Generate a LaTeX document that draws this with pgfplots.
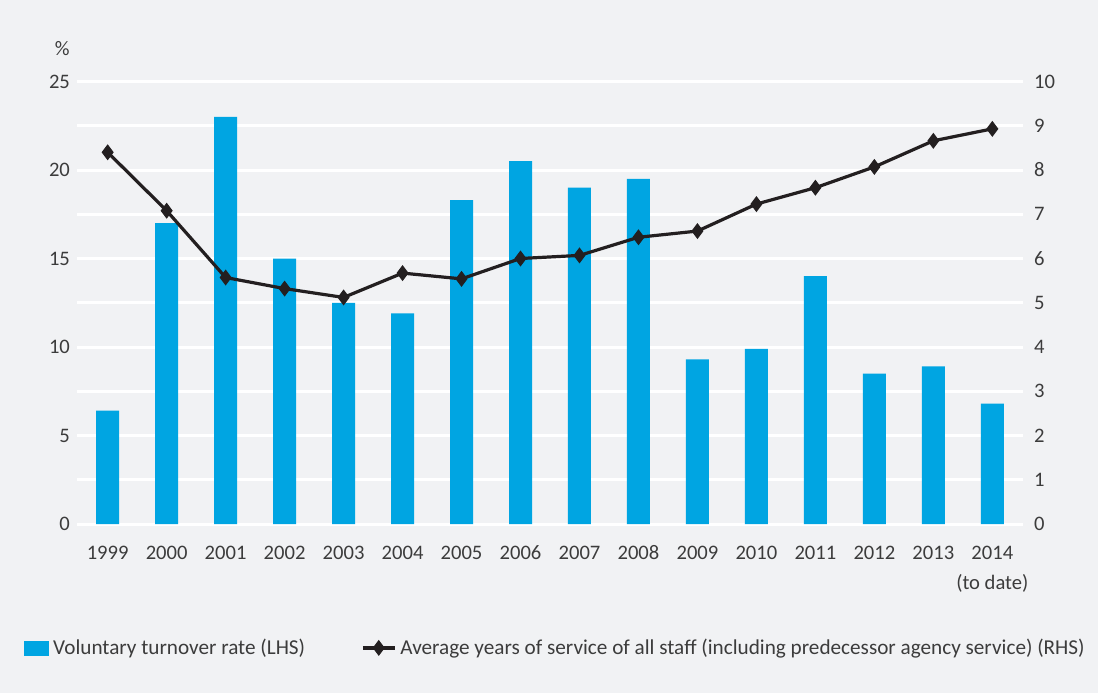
\documentclass[border=0pt]{standalone}
\usepackage{fontspec}
\setmainfont{Carlito}
\usepackage{pgfplots}
\pgfplotsset{compat=1.18}
\definecolor{bg}{HTML}{F1F2F4}
\definecolor{barblue}{HTML}{00A5E2}
\definecolor{linek}{HTML}{231F20}
\definecolor{txt}{HTML}{3C3C3C}
\pgfplotsset{
  mylinelegend/.style={legend image code/.code={\draw[mark repeat=2,mark phase=2,##1] plot coordinates {(0pt,0pt) (8pt,0pt) (16pt,0pt)};}},
  mybarlegend/.style={legend image code/.code={\fill[barblue] (0pt,-3.5pt) rectangle (12pt,3.5pt);}},
}

\begin{document}
\begin{tikzpicture}[font=\fontsize{10.3}{12}\selectfont]
\fill[bg] (0,0) rectangle (549pt,346.5pt);
\begin{axis}[
  at={(38.5pt,84.5pt)}, anchor=south west,
  width=473pt, height=221.25pt, scale only axis,
  xmin=-0.52, xmax=15.52, ymin=0, ymax=25,
  axis line style={draw=none},
  major tick length=0pt, minor tick length=0pt,
  ytick={0,5,...,25}, minor ytick={2.5,7.5,...,22.5},
  ymajorgrids, yminorgrids,
  major grid style={white, line width=1.5pt},
  minor grid style={white, line width=1.5pt},
  xtick={0,...,15},
  xticklabels={1999,2000,2001,2002,2003,2004,2005,2006,2007,2008,2009,2010,2011,2012,2013,2014},
  xticklabel style={anchor=north, text height=7.2pt, text depth=0pt, yshift=-7pt, text=txt},
  yticklabel style={text=txt},
  /pgf/number format/assume math mode=true,
  clip=false,
]
\addplot[ybar, bar width=11.5pt, fill=barblue, draw=none] coordinates {
(0,6.4) (1,17.0) (2,23.0) (3,15.0) (4,12.5) (5,11.9) (6,18.3) (7,20.5)
(8,19.0) (9,19.5) (10,9.3) (11,9.9) (12,14.0) (13,8.5) (14,8.9) (15,6.8)};
\node[anchor=base east, text=txt, inner sep=0pt] at ([xshift=-3.5pt, yshift=13.25pt]rel axis cs:0,1) {\%};
\node[anchor=base, text=txt, inner sep=0pt] at ([yshift=-32.5pt]axis cs:15,0) {(to date)};
\end{axis}
\begin{axis}[
  at={(38.5pt,84.5pt)}, anchor=south west,
  width=473pt, height=221.25pt, scale only axis,
  xmin=-0.52, xmax=15.52, ymin=0, ymax=10,
  axis x line=none, axis y line*=right,
  axis line style={draw=none},
  major tick length=0pt,
  ytick={0,...,10},
  yticklabel style={text=txt, xshift=2pt},
  /pgf/number format/assume math mode=true,
  clip=false,
  legend style={draw=none, fill=none, inner sep=0pt, anchor=west,
    at={(axis description cs:-0.056,-0.280)}, legend columns=2,
    font=\fontsize{10.6}{12}\selectfont, text=txt,
    /tikz/every even column/.append style={column sep=26pt}},
]
\addlegendimage{mybarlegend}
\addlegendentry{Voluntary turnover rate (LHS)}
\addplot[linek, line width=1.6pt, mark=diamond*, mark size=3.6pt, mark options={fill=linek, line width=0.5pt},
  mylinelegend] coordinates {
(0,8.40) (1,7.08) (2,5.57) (3,5.32) (4,5.12) (5,5.67) (6,5.54) (7,6.00)
(8,6.07) (9,6.48) (10,6.62) (11,7.23) (12,7.60) (13,8.07) (14,8.66) (15,8.93)};
\addlegendentry{Average years of service of all staff (including predecessor agency service) (RHS)}
\end{axis}
\end{tikzpicture}
\end{document}
